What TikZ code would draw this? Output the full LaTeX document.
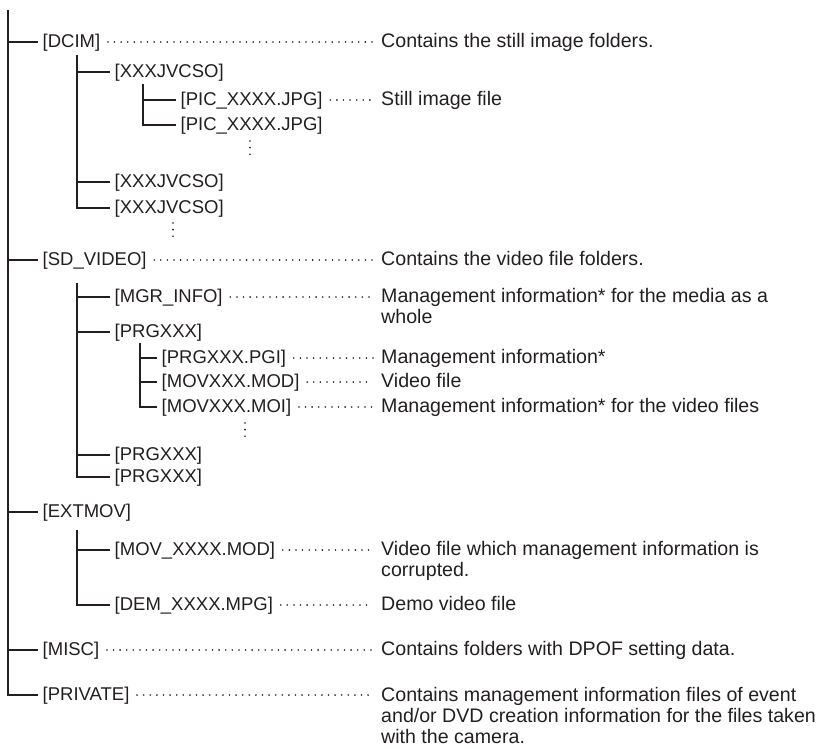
\documentclass[tikz,border=0pt]{standalone}
\usepackage{fontspec}
\setmainfont{Liberation Sans}
\usepackage{tikz}
\definecolor{treeink}{HTML}{231F20}

\begin{document}
\begin{tikzpicture}[x=1pt,y=-1pt, text=treeink,
  entry/.style={anchor=west, inner xsep=4.5pt, inner ysep=0pt,
    font=\fontsize{18.5}{21}\selectfont, text height=14pt, text depth=4pt},
  note/.style={anchor=west, inner xsep=8pt, inner ysep=0pt,
    font=\fontsize{19.6}{21.3}\selectfont, text height=14pt, text depth=4pt},
  longnote/.style={anchor=base west, inner xsep=8pt, inner ysep=0pt,
    font=\fontsize{19.6}{21.3}\selectfont},
  branch/.style={draw=treeink, line width=2pt},
  leader/.style={draw=treeink, line width=1.8pt, line cap=round,
    dash pattern=on 0pt off 6.6pt, shorten <=3pt}]
  \useasboundingbox (0,0) rectangle (824,748);

  % trunks of the tree
  \coordinate (root) at (8,10);
  \coordinate (dcimT) at (77,55);
  \coordinate (jvcT) at (143,84);
  \coordinate (sdT) at (77,283);
  \coordinate (prgT) at (140,343);
  \coordinate (extT) at (77,530);

  % folders and files
  \node[entry] (dcim) at (38,42) {[DCIM]};
  \node[entry] (jvc1) at (110,72) {[XXXJVCSO]};
  \node[entry] (pic1) at (176,100) {[PIC\_XXXX.JPG]};
  \node[entry] (pic2) at (176,125) {[PIC\_XXXX.JPG]};
  \node[entry] (jvc2) at (110,182) {[XXXJVCSO]};
  \node[entry] (jvc3) at (110,208) {[XXXJVCSO]};
  \node[entry] (sdvideo) at (38,260) {[SD\_VIDEO]};
  \node[entry] (mgrinfo) at (110,297) {[MGR\_INFO]};
  \node[entry] (prg1) at (110,332) {[PRGXXX]};
  \node[entry] (pgi) at (157,358) {[PRGXXX.PGI]};
  \node[entry] (movmod) at (157,382) {[MOVXXX.MOD]};
  \node[entry] (movmoi) at (157,407) {[MOVXXX.MOI]};
  \node[entry] (prg2) at (110,455) {[PRGXXX]};
  \node[entry] (prg3) at (110,477) {[PRGXXX]};
  \node[entry] (extmov) at (38,512) {[EXTMOV]};
  \node[entry] (movx) at (110,550) {[MOV\_XXXX.MOD]};
  \node[entry] (demx) at (110,605) {[DEM\_XXXX.MPG]};
  \node[entry] (misc) at (38,650) {[MISC]};
  \node[entry] (private) at (38,695) {[PRIVATE]};

  % descriptions
  \node[note] (dcimtxt) at (373,42) {Contains the still image folders.};
  \node[note] (pictxt) at (373,100) {Still image file};
  \node[note] (sdtxt) at (373,260) {Contains the video file folders.};
  \node[longnote] (mgrtxt) at (373,302.5) {\begin{tabular}[t]{@{}l@{}}Management information* for the media as a\\whole\end{tabular}};
  \node[note] (pgitxt) at (373,358) {Management information*};
  \node[note] (modtxt) at (373,382) {Video file};
  \node[note] (moitxt) at (373,407) {Management information* for the video files};
  \node[longnote] (movxtxt) at (373,555) {\begin{tabular}[t]{@{}l@{}}Video file which management information is\\corrupted.\end{tabular}};
  \node[note] (demtxt) at (373,605) {Demo video file};
  \node[note] (misctxt) at (373,650) {Contains folders with DPOF setting data.};
  \node[longnote] (privtxt) at (373,701) {\begin{tabular}[t]{@{}l@{}}Contains management information files of event\\and/or DVD creation information for the files taken\\with the camera.\end{tabular}};

  % branches
  \foreach \n in {dcim,sdvideo,extmov,misc,private}
    \draw[branch] (root) |- (\n.west);
  \foreach \n in {jvc1,jvc2,jvc3}
    \draw[branch] (dcimT) |- (\n.west);
  \foreach \n in {pic1,pic2}
    \draw[branch] (jvcT) |- (\n.west);
  \foreach \n in {mgrinfo,prg1,prg2,prg3}
    \draw[branch] (sdT) |- (\n.west);
  \foreach \n in {pgi,movmod,movmoi}
    \draw[branch] (prgT) |- (\n.west);
  \foreach \n in {movx,demx}
    \draw[branch] (extT) |- (\n.west);

  % dotted leaders
  \foreach \a/\b in {dcim/dcimtxt,pic1/pictxt,sdvideo/sdtxt,mgrinfo/mgrtxt,
      pgi/pgitxt,movmod/modtxt,movmoi/moitxt,movx/movxtxt,demx/demtxt,
      misc/misctxt,private/privtxt}
    \draw[leader] (\a.east) -- (\a.east -| \b.west);

  % more entries follow
  \draw[leader, shorten <=0pt] (250,141) -- (250,155);
  \draw[leader, shorten <=0pt] (173,223) -- (173,237);
  \draw[leader, shorten <=0pt] (245,423) -- (245,437);
\end{tikzpicture}
\end{document}
